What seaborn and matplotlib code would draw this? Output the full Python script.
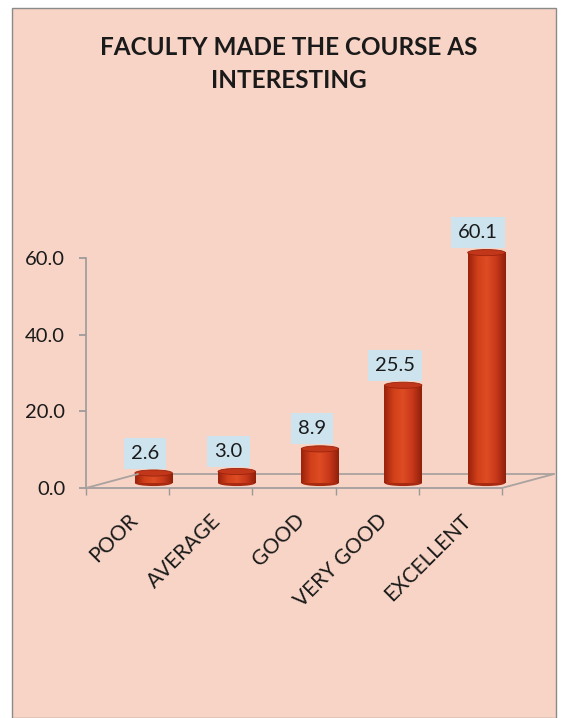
import numpy as np
import pandas as pd
import matplotlib
matplotlib.use("Agg")
import matplotlib.pyplot as plt
import matplotlib.transforms as mtransforms
from matplotlib.patches import Rectangle, Ellipse
from matplotlib.colors import LinearSegmentedColormap
import seaborn as sns

# Data
categories = ["POOR", "AVERAGE", "GOOD", "VERY GOOD", "EXCELLENT"]
percent = [2.6, 3.0, 8.9, 25.5, 60.1]
y_ticks = [0.0, 20.0, 40.0, 60.0]
title = "FACULTY MADE THE COURSE AS\nINTERESTING"

df = pd.DataFrame({"category": categories, "percent": percent})

sns.set_theme(style="white")
plt.rcParams["font.family"] = ["Lato", "DejaVu Sans"]

W, H = 561, 718
fig = plt.figure(figsize=(W / 100, H / 100), dpi=100, facecolor="white")

# peach panel with thin grey frame
fig.patches.append(Rectangle((12 / W, 0), 544 / W, 710 / H, transform=fig.transFigure,
                             facecolor="#f7d4c5", edgecolor="#8a8a8a", linewidth=1.0, zorder=-10))

ax = fig.add_axes([86 / W, (H - 488) / H, 416 / W, 230 / H])
ax.set_facecolor("none")

sns.barplot(data=df, x="category", y="percent", ax=ax, color="#d03a16",
            width=0.45, edgecolor="none", zorder=3)
ax.set_xlim(-0.5, 4.5)
ax.set_ylim(0, 60)

# depth offsets for the "3D" look
depth = mtransforms.ScaledTranslation(0.52, 0.14, fig.dpi_scale_trans)
half = mtransforms.ScaledTranslation(0.26, 0.05, fig.dpi_scale_trans)

# floor parallelogram
grey = "#9a9a9a"
floor = "#aaa29e"
ax.plot([0, 1], [0, 0], transform=ax.transAxes + depth, color=floor, lw=1.3, clip_on=False, zorder=1)
for xa in (0, 1):
    p0 = ax.transAxes.transform((xa, 0))
    p1 = (ax.transAxes + depth).transform((xa, 0))
    fig.add_artist(plt.Line2D([p0[0] / W, p1[0] / W], [p0[1] / H, p1[1] / H],
                              transform=fig.transFigure, color=floor, lw=1.3))

cyl = LinearSegmentedColormap.from_list("cyl", ["#9a220b", "#d2401b", "#de4c24", "#c8381a", "#92200a"])
grad = np.linspace(0, 1, 64).reshape(1, -1)

for patch, val in zip(ax.patches, percent):
    x0 = patch.get_x()
    w = patch.get_width()
    tr = ax.transData + half
    patch.set_transform(tr)
    patch.set_clip_on(False)
    im = ax.imshow(grad, extent=[x0, x0 + w, 0, val], aspect="auto", cmap=cyl,
                   transform=tr, zorder=4, clip_on=False)
    im.set_clip_path(patch)
    ax.add_patch(Ellipse((x0 + w / 2, 0), w, 1.6, transform=tr, facecolor="#a82a10",
                         edgecolor="none", zorder=2, clip_on=False))
    ax.add_patch(Ellipse((x0 + w / 2, val), w, 1.6, transform=tr, facecolor="#c2361a",
                         edgecolor="#9a240c", lw=0.6, zorder=5, clip_on=False))
    ax.text(x0 + w / 2 - 0.1, val + 5.2, f"{val:.1f}", transform=tr, ha="center", va="center",
            fontsize=14.5, color="#1a1a1a", zorder=6,
            bbox=dict(boxstyle="square,pad=0.35", facecolor="#cde3ee", edgecolor="none"))

ax.set_xlim(-0.5, 4.5)
ax.set_ylim(0, 60)

# axes styling
for s in ["top", "right"]:
    ax.spines[s].set_visible(False)
ax.spines["left"].set_color(grey)
ax.spines["bottom"].set_color(grey)
ax.spines["left"].set_linewidth(1.2)
ax.spines["bottom"].set_linewidth(1.2)

ax.set_yticks(y_ticks)
ax.set_yticklabels([f"{t:.1f}" for t in y_ticks], fontsize=14.5, color="#1a1a1a")
ax.tick_params(axis="y", length=5, color=grey, left=True, pad=10)

ax.set_xticks(range(len(categories)))
ax.set_xticklabels(categories, rotation=45, ha="right", rotation_mode="anchor",
                   fontsize=15, color="#1a1a1a")
ax.tick_params(axis="x", length=0, pad=16)
ax.set_xticks(np.arange(-0.5, 5, 1), minor=True)
ax.tick_params(axis="x", which="minor", length=5, color=grey, bottom=True)

ax.set_xlabel("")
ax.set_ylabel("")

fig.text(0.515, 1 - 64 / H, title, ha="center", va="center", fontsize=17.5,
         fontweight="bold", color="#1a1a1a", linespacing=1.5)

fig.savefig("out.png", dpi=100)
